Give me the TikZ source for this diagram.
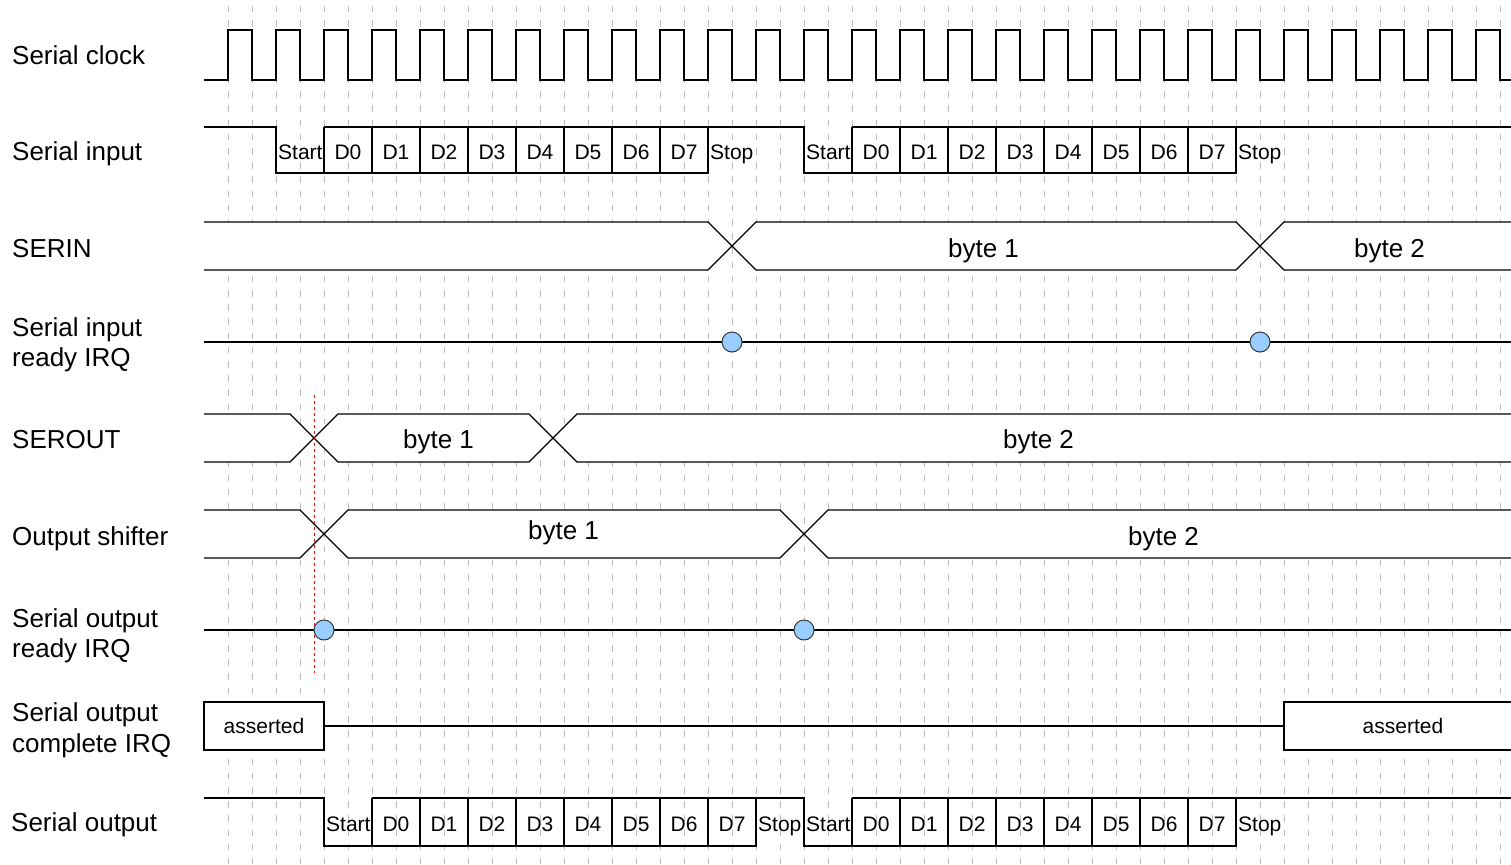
\documentclass[tikz,border=0pt]{standalone}
\usepackage{fontspec}
\setmainfont{Liberation Sans}
\definecolor{gridgray}{HTML}{BDBDBD}
\definecolor{irqfill}{HTML}{99CCFF}
\definecolor{irqdraw}{HTML}{36393D}
\begin{document}
\begin{tikzpicture}[x=1pt,y=-1pt,
  wave/.style={draw=black, line width=1.2pt, line join=miter},
  busfill/.style={fill=white, draw=black, line width=1.2pt, line join=miter},
  gridline/.style={draw=gridgray, line width=1pt, dash pattern=on 6.5pt off 7.7pt, dash phase=8.2pt},
  siglabel/.style={anchor=base west, inner sep=0pt, font=\fontsize{26}{30}\selectfont},
  buslabel/.style={anchor=base, inner sep=0pt, font=\fontsize{26}{30}\selectfont},
  bitlabel/.style={anchor=base, inner sep=0pt, font=\fontsize{21}{24}\selectfont},
  bitlabelw/.style={anchor=base west, inner sep=0pt, font=\fontsize{21}{24}\selectfont},
  assertbox/.style={draw=black, fill=white, line width=1.2pt, inner sep=0pt, minimum height=48pt, font=\fontsize{21}{24}\selectfont},
  irqdot/.style={circle, draw=irqdraw, fill=irqfill, line width=1pt, minimum size=20pt, inner sep=0pt},
  markerline/.style={draw=red, line width=1pt, dash pattern=on 3pt off 3pt}
]
\useasboundingbox (0,0) rectangle (1511,864);
\clip (0,0) rectangle (1511,864);
\fill[white] (0,0) rectangle (1511,864);

% grid
\foreach \k in {0,...,53} \draw[gridline] ({228+24*\k},0) -- ({228+24*\k},864);

% signal names
\node[siglabel] (n-clk) at (12,64.5) {Serial clock};
\node[siglabel] (n-sin) at (12,160.5) {Serial input};
\node[siglabel] (n-serin) at (12,257) {SERIN};
\node[siglabel] (n-sirq1) at (12,336) {Serial input};
\node[siglabel] (n-sirq2) at (12,366) {ready IRQ};
\node[siglabel] (n-serout) at (12,448.3) {SEROUT};
\node[siglabel] (n-shift) at (12,545) {Output shifter};
\node[siglabel] (n-sorq1) at (12,627.3) {Serial output};
\node[siglabel] (n-sorq2) at (12,657.7) {ready IRQ};
\node[siglabel] (n-scrq1) at (12,721.7) {Serial output};
\node[siglabel] (n-scrq2) at (12,752.3) {complete IRQ};
\node[siglabel] (n-sout) at (11,831.7) {Serial output};

% serial clock
\draw[wave] (204,80) \foreach \k in {0,...,26}{ -- ({228+48*\k},80) -- ({228+48*\k},30) -- ({252+48*\k},30) -- ({252+48*\k},80)} -- (1515,80);

% serial input
\draw[wave] (204,127) -- (276,127) -- (276,173) -- (708,173) -- (708,127);
\draw[wave] (324,127) -- (804,127) -- (804,173) -- (1236,173) -- (1236,127);
\draw[wave] (852,127) -- (1515,127);
\foreach \k in {0,...,7} {
  \draw[wave] ({324+48*\k},127) -- ({324+48*\k},173);
  \draw[wave] ({852+48*\k},127) -- ({852+48*\k},173);
}
\node[bitlabelw] (si-start1) at (278,159.5) {Start};
\foreach \k in {0,...,7} \node[bitlabel] (si-a\k) at ({348+48*\k},159.5) {D\k};
\node[bitlabelw] (si-stop1) at (710,159.5) {Stop};
\node[bitlabelw] (si-start2) at (806,159.5) {Start};
\foreach \k in {0,...,7} \node[bitlabel] (si-b\k) at ({876+48*\k},159.5) {D\k};
\node[bitlabelw] (si-stop2) at (1238,159.5) {Stop};

% SERIN
\path[busfill] (204,222) -- (708,222) -- (732,246) -- (708,270) -- (204,270);
\path[busfill] (732,246) -- (756,222) -- (1236,222) -- (1260,246) -- (1236,270) -- (756,270) -- cycle;
\path[busfill] (1515,222) -- (1284,222) -- (1260,246) -- (1284,270) -- (1515,270);
\node[buslabel] (serin-b1) at (983.5,257) {byte 1};
\node[buslabel] (serin-b2) at (1389.5,257) {byte 2};

% Serial input ready IRQ
\coordinate (sirq-l) at (204,342);
\coordinate (sirq-r) at (1515,342);
\draw[wave] (sirq-l) -- (sirq-r);

% SEROUT
\path[busfill] (204,414) -- (290,414) -- (314,438) -- (290,462) -- (204,462);
\path[busfill] (314,438) -- (338,414) -- (529,414) -- (553,438) -- (529,462) -- (338,462) -- cycle;
\path[busfill] (1515,414) -- (577,414) -- (553,438) -- (577,462) -- (1515,462);
\node[buslabel] (serout-b1) at (438.5,448.3) {byte 1};
\node[buslabel] (serout-b2) at (1038.5,448.3) {byte 2};

% Output shifter
\path[busfill] (204,510) -- (300,510) -- (324,534) -- (300,558) -- (204,558);
\path[busfill] (324,534) -- (348,510) -- (780,510) -- (804,534) -- (780,558) -- (348,558) -- cycle;
\path[busfill] (1515,510) -- (828,510) -- (804,534) -- (828,558) -- (1515,558);
\node[buslabel] (shift-b1) at (563.5,539.5) {byte 1};
\node[buslabel] (shift-b2) at (1163.5,545) {byte 2};

% Serial output ready IRQ
\coordinate (sorq-l) at (204,630);
\coordinate (sorq-r) at (1515,630);
\draw[wave] (sorq-l) -- (sorq-r);

% Serial output complete IRQ
\node[assertbox, minimum width=120pt] (as1) at (264,726) {asserted};
\node[assertbox, minimum width=238pt] (as2) at (1403,726) {asserted};
\draw[wave] (as1.east) -- (as2.west);

% Serial output
\draw[wave] (204,798) -- (324,798) -- (324,846) -- (756,846) -- (756,798);
\draw[wave] (372,798) -- (804,798) -- (804,846) -- (1236,846) -- (1236,798);
\draw[wave] (852,798) -- (1515,798);
\foreach \k in {0,...,7} {
  \draw[wave] ({372+48*\k},798) -- ({372+48*\k},846);
  \draw[wave] ({852+48*\k},798) -- ({852+48*\k},846);
}
\node[bitlabelw] (so-start1) at (326,831) {Start};
\foreach \k in {0,...,7} \node[bitlabel] (so-a\k) at ({396+48*\k},831) {D\k};
\node[bitlabelw] (so-stop1) at (758,831) {Stop};
\node[bitlabelw] (so-start2) at (806,831) {Start};
\foreach \k in {0,...,7} \node[bitlabel] (so-b\k) at ({876+48*\k},831) {D\k};
\node[bitlabelw] (so-stop2) at (1238,831) {Stop};

% red marker
\coordinate (mk-top) at (314,395);
\coordinate (mk-bot) at (314,673);
\draw[markerline] (mk-top) -- (mk-bot);

% IRQ events
\node[irqdot] (sirq-e1) at (732,342) {};
\node[irqdot] (sirq-e2) at (1260,342) {};
\node[irqdot] (sorq-e1) at (324,630) {};
\node[irqdot] (sorq-e2) at (804,630) {};
\end{tikzpicture}
\end{document}
